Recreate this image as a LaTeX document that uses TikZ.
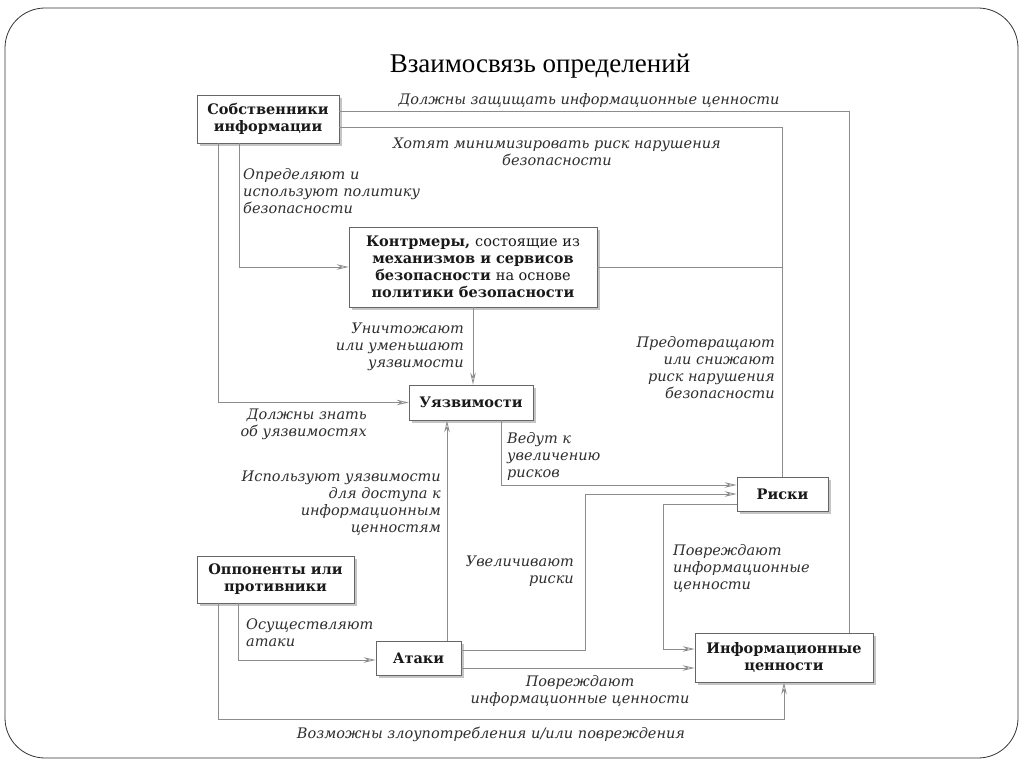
\documentclass[tikz,border=0pt]{standalone}
\usepackage{fontspec}
\setmainfont{DejaVu Serif}
\newfontfamily\titlefont{Liberation Serif}
\usetikzlibrary{arrows.meta,shadows}

\begin{document}
\begin{tikzpicture}[x=1pt,y=-1pt,
  box/.style={draw=black!60, fill=white, line width=0.8pt, align=center, inner sep=0pt,
    font=\fontsize{14.5}{17}\selectfont\bfseries, text=black!90,
    drop shadow={shadow xshift=3pt, shadow yshift=-3pt, fill=black!45}},
  conn/.style={draw=black!45, line width=0.8pt},
  arr/.style={conn, -{Stealth[open,length=12pt,width=5.5pt,inset=4pt]}},
  lbl/.style={font=\fontsize{14.5}{17}\selectfont\itshape, text=black!82, inner sep=0pt}]
\useasboundingbox (0,0) rectangle (1024,767);
\draw[black!80, line width=0.8pt, rounded corners=40pt] (5,8) rectangle (1018,758);

\node[font=\titlefont\fontsize{27}{30}\selectfont] (title) at (540,66) {Взаимосвязь определений};

% boxes
\node[box, minimum width=142, minimum height=48] (own) at (268,119) {Собственники\\информации};
\node[box, minimum width=248, minimum height=80] (cm) at (473,267)
  {Контрмеры, \textmd{состоящие из}\\механизмов и сервисов\\безопасности \textmd{на основе}\\политики безопасности};
\node[box, minimum width=124, minimum height=35] (vul) at (471,402.5) {Уязвимости};
\node[box, minimum width=91, minimum height=34] (risk) at (782.5,494) {Риски};
\node[box, minimum width=157, minimum height=47] (opp) at (275.5,579.5) {Оппоненты или\\противники};
\node[box, minimum width=85, minimum height=34] (att) at (418.5,658) {Атаки};
\node[box, minimum width=178, minimum height=49] (asset) at (784,657.5) {Информационные\\ценности};

% connectors
\draw[conn] (own.east |- 0,111) -| (849,0 |- asset.north);
\draw[conn] (own.east |- 0,127) -| (risk.north);
\draw[conn] (cm.east) -- (cm.east -| risk.north);
\draw[arr] (239,0 |- own.south) |- (cm.west);
\draw[arr] (218,0 |- own.south) |- (vul.west);
\draw[arr] (cm.south) -- (cm.south |- vul.north);
\draw[arr] (501,0 |- vul.south) |- (risk.west |- 0,485);
\draw[arr] (447,0 |- att.north) -- (447,0 |- vul.south);
\draw[arr] (att.east |- 0,650) -- (585,650) |- (risk.west |- 0,494);
\draw[arr] (risk.west |- 0,504) -- (663,504) |- (asset.west |- 0,649);
\draw[arr] (att.east |- 0,668) -- (asset.west |- 0,668);
\draw[arr] (238,0 |- opp.south) |- (att.west |- 0,660);
\draw[arr] (218,0 |- opp.south) -- (218,719) -| (asset.south);

% labels
\node[lbl] (lProtect) at (589,101) {Должны защищать информационные ценности};
\node[lbl, align=center] (lMinimize) at (557,152) {Хотят минимизировать риск нарушения\\безопасности};
\node[lbl, align=left, anchor=west] (lPolicy) at (243,191) {Определяют и\\используют политику\\безопасности};
\node[lbl, align=right, anchor=east] (lReduce) at (464,347) {Уничтожают\\или уменьшают\\уязвимости};
\node[lbl, align=right, anchor=east] (lPrevent) at (775,368) {Предотвращают\\или снижают\\риск нарушения\\безопасности};
\node[lbl, align=right, anchor=east] (lKnow) at (367,424) {Должны знать\\об уязвимостях};
\node[lbl, align=left, anchor=west] (lLead) at (507,456) {Ведут к\\увеличению\\рисков};
\node[lbl, align=right, anchor=east] (lUse) at (441,503) {Используют уязвимости\\для доступа к\\информационным\\ценностям};
\node[lbl, align=right, anchor=east] (lIncrease) at (574,571) {Увеличивают\\риски};
\node[lbl, align=left, anchor=west] (lDamage) at (673,568) {Повреждают\\информационные\\ценности};
\node[lbl, align=left, anchor=west] (lAttack) at (246,633) {Осуществляют\\атаки};
\node[lbl, align=center] (lDamageB) at (580,691) {Повреждают\\информационные ценности};
\node[lbl] (lMisuse) at (491,734) {Возможны злоупотребления и/или повреждения};
\end{tikzpicture}
\end{document}
